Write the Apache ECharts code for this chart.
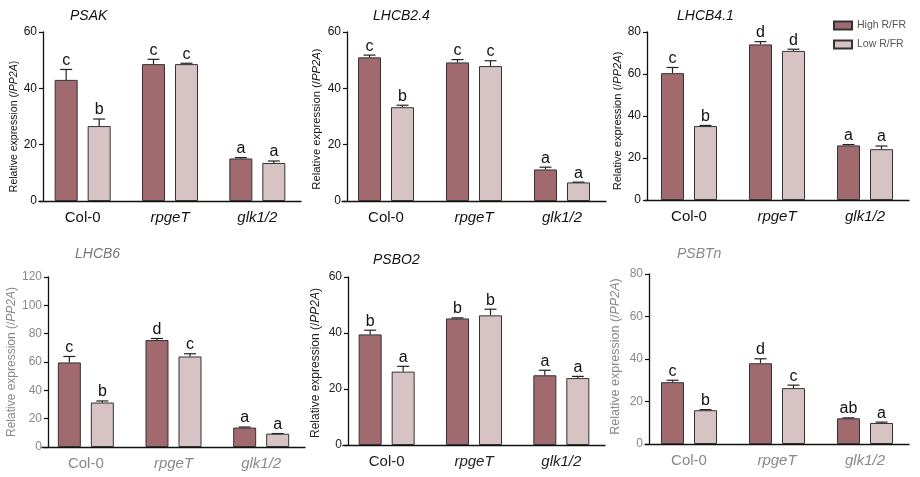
<!DOCTYPE html>
<html>
<head>
<meta charset="utf-8">
<script src="https://cdn.jsdelivr.net/npm/echarts@6/dist/echarts.min.js"></script>
<style>html,body{margin:0;padding:0;background:#fff}#c{width:920px;height:477px}</style>
</head>
<body>
<div id="c"></div>
<script>
// ---- data ----
const categories = ['Col-0', 'rpgeT', 'glk1/2'];
const seriesNames = ['High R/FR', 'Low R/FR'];
const genes = ['PSAK', 'LHCB2.4', 'LHCB4.1', 'LHCB6', 'PSBO2', 'PSBTn'];

const psakHigh = [43.0, 48.6, 15.1];
const psakHighErr = [3.7, 1.7, 0.3];
const psakLow = [26.6, 48.6, 13.5];
const psakLowErr = [2.5, 0.3, 0.7];
const psakLetters = [['c', 'c', 'a'], ['b', 'c', 'a']];

const lhcb24High = [51.0, 49.2, 11.2];
const lhcb24HighErr = [0.8, 1.0, 0.8];
const lhcb24Low = [33.3, 47.9, 6.6];
const lhcb24LowErr = [0.7, 1.9, 0.1];
const lhcb24Letters = [['c', 'c', 'a'], ['b', 'c', 'a']];

const lhcb41High = [60.4, 74.1, 26.0];
const lhcb41HighErr = [2.7, 1.3, 0.4];
const lhcb41Low = [35.2, 71.0, 24.2];
const lhcb41LowErr = [0.3, 0.8, 1.5];
const lhcb41Letters = [['c', 'd', 'a'], ['b', 'd', 'a']];

const lhcb6High = [59.7, 75.5, 13.7];
const lhcb6HighErr = [4.2, 1.1, 0.4];
const lhcb6Low = [31.4, 63.9, 9.4];
const lhcb6LowErr = [1.1, 1.9, 0.1];
const lhcb6Letters = [['c', 'd', 'a'], ['b', 'c', 'a']];

const psbo2High = [39.5, 45.2, 24.9];
const psbo2HighErr = [1.5, 0.2, 1.8];
const psbo2Low = [26.2, 46.3, 23.9];
const psbo2LowErr = [1.9, 2.2, 0.6];
const psbo2Letters = [['b', 'b', 'a'], ['a', 'b', 'a']];

const psbtnHigh = [29.1, 38.0, 12.1];
const psbtnHighErr = [0.9, 2.1, 0.2];
const psbtnLow = [15.9, 26.3, 9.9];
const psbtnLowErr = [0.3, 1.4, 0.4];
const psbtnLetters = [['c', 'd', 'ab'], ['b', 'c', 'a']];

const yMax = [60, 60, 80, 120, 60, 80];
const yInterval = [20, 20, 20, 20, 20, 20];

const panelData = [
  [psakHigh, psakHighErr, psakLow, psakLowErr, psakLetters],
  [lhcb24High, lhcb24HighErr, lhcb24Low, lhcb24LowErr, lhcb24Letters],
  [lhcb41High, lhcb41HighErr, lhcb41Low, lhcb41LowErr, lhcb41Letters],
  [lhcb6High, lhcb6HighErr, lhcb6Low, lhcb6LowErr, lhcb6Letters],
  [psbo2High, psbo2HighErr, psbo2Low, psbo2LowErr, psbo2Letters],
  [psbtnHigh, psbtnHighErr, psbtnLow, psbtnLowErr, psbtnLetters]
];

// ---- layout / style ----
const layout = [
  {left: 39, top: 32, width: 262, height: 169, off: -4, tl: 65, tt: 4, tc: '#111', lc: '#111', nc: '#111', ng: 23, nf: 10.5, np: 20},
  {left: 342, top: 32, width: 264, height: 169, off: -5, tl: 368, tt: 4, tc: '#111', lc: '#111', nc: '#111', ng: 25, nf: 11.3, np: 5},
  {left: 645, top: 32, width: 264, height: 168, off: -2, tl: 672, tt: 4, tc: '#111', lc: '#111', nc: '#111', ng: 21, nf: 11.1, np: 10},
  {left: 42, top: 277, width: 263, height: 170, off: -6, tl: 70, tt: 242, tc: '#777', lc: '#888', nc: '#888', ng: 26, nf: 12, np: 0},
  {left: 343, top: 277, width: 262, height: 168, off: -5, tl: 368, tt: 248, tc: '#111', lc: '#222', nc: '#222', ng: 26, nf: 12, np: 4},
  {left: 645, top: 274, width: 264, height: 170, off: -4, tl: 672, tt: 242, tc: '#888', lc: '#888', nc: '#888', ng: 27, nf: 12.5, np: -5}
];
const colHigh = '#a06a6e';
const colLow = '#d8c3c4';
const FONT = 'Liberation Sans, Arial, sans-serif';
const BARW = 23, GAP = 10, OFFSET = (BARW + GAP) / 2, CAP = 6;

const chart = echarts.init(document.getElementById('c'));
const grid = [], xAxis = [], yAxis = [], series = [], title = [];

function errSeries(i, vals, errs, letters, dx) {
  return {
    type: 'custom', xAxisIndex: i, yAxisIndex: i, silent: true, z: 5,
    data: vals.map((v, k) => [k, v, errs[k]]),
    encode: {x: 0, y: 1},
    renderItem: function (params, api) {
      const base = api.coord([api.value(0), api.value(1)]);
      const top = api.coord([api.value(0), api.value(1) + api.value(2)]);
      const cx = base[0] + dx;
      const st = {stroke: '#222', lineWidth: 1.2};
      return {type: 'group', children: [
        {type: 'line', shape: {x1: cx, y1: base[1], x2: cx, y2: top[1]}, style: st},
        {type: 'line', shape: {x1: cx - CAP, y1: top[1], x2: cx + CAP, y2: top[1]}, style: st},
        {type: 'text', style: {text: letters[params.dataIndex], x: cx, y: top[1] - 1,
          align: 'center', verticalAlign: 'bottom', font: '16px ' + FONT, fill: '#111'}}
      ]};
    }
  };
}

for (let i = 0; i < 6; i++) {
  const L = layout[i];
  const [hi, hiE, lo, loE, lets] = panelData[i];
  grid.push({left: L.left, top: L.top, width: L.width, height: L.height, containLabel: false});
  title.push({text: genes[i], left: L.tl, top: L.tt,
    textStyle: {fontFamily: FONT, fontSize: 14, fontStyle: 'italic', fontWeight: 'normal', color: L.tc}});
  xAxis.push({type: 'category', gridIndex: i, data: categories,
    axisLine: {lineStyle: {color: '#111', width: 1.3}},
    axisTick: {alignWithLabel: true, length: 4, lineStyle: {color: '#111', width: 1.2}},
    axisLabel: {margin: 9, color: L.lc, fontFamily: FONT, fontSize: 15,
      formatter: v => v === 'Col-0' ? v : '{i|' + v + '}',
      rich: {i: {fontStyle: 'italic', fontFamily: FONT, fontSize: 15, color: L.lc}}},
    splitLine: {show: false}});
  const pad = L.np >= 0 ? [0, L.np, 0, 0] : [0, 0, 0, -L.np];
  yAxis.push({type: 'value', gridIndex: i, min: 0, max: yMax[i], interval: yInterval[i], offset: L.off,
    name: 'Relative expression (/{i|PP2A})', nameLocation: 'middle', nameGap: L.ng,
    nameTextStyle: {fontFamily: FONT, fontSize: L.nf, color: L.nc, padding: pad,
      rich: {i: {fontStyle: 'italic', fontFamily: FONT, fontSize: L.nf, color: L.nc}}},
    axisLine: {show: true, lineStyle: {color: '#111', width: 1.3}},
    axisTick: {show: true, length: 4, lineStyle: {color: '#111', width: 1.2}},
    axisLabel: {margin: 6, color: L.lc, fontFamily: FONT, fontSize: 12},
    splitLine: {show: false}});
  series.push({type: 'bar', name: seriesNames[0], xAxisIndex: i, yAxisIndex: i, data: hi,
    barWidth: BARW, barGap: (GAP / BARW * 100).toFixed(1) + '%',
    itemStyle: {color: colHigh, borderColor: '#333', borderWidth: 1}});
  series.push({type: 'bar', name: seriesNames[1], xAxisIndex: i, yAxisIndex: i, data: lo,
    barWidth: BARW, barGap: (GAP / BARW * 100).toFixed(1) + '%',
    itemStyle: {color: colLow, borderColor: '#333', borderWidth: 1}});
  series.push(errSeries(i, hi, hiE, lets[0], -OFFSET));
  series.push(errSeries(i, lo, loE, lets[1], OFFSET));
}

chart.setOption({
  animation: false,
  backgroundColor: '#fff',
  title: title,
  legend: {data: seriesNames, orient: 'vertical', left: 828, top: 15, itemWidth: 18, itemHeight: 8,
    itemGap: 8, icon: 'rect',
    textStyle: {fontFamily: FONT, fontSize: 10.5, color: '#555'}},
  grid: grid, xAxis: xAxis, yAxis: yAxis, series: series
});
</script>
</body>
</html>
